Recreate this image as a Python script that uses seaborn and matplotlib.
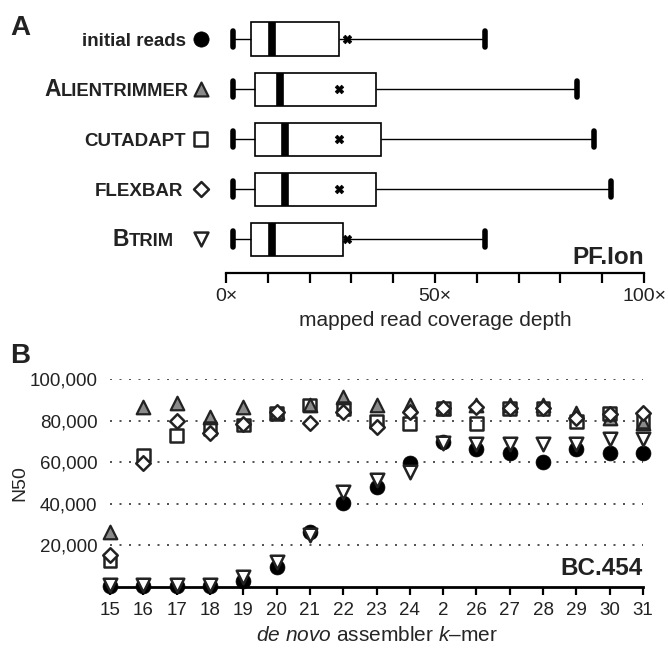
import numpy as np
import pandas as pd
import matplotlib
matplotlib.use("Agg")
import matplotlib.pyplot as plt
from matplotlib.transforms import blended_transform_factory
import seaborn as sns

sns.set_theme(style="white")
plt.rcParams['font.family'] = ['Liberation Sans', 'DejaVu Sans']
plt.rcParams['mathtext.fontset'] = 'custom'
plt.rcParams['mathtext.rm'] = 'Liberation Sans'
plt.rcParams['mathtext.it'] = 'Liberation Sans:italic'

# ---------------- Panel A data (mapped read coverage depth) ----------------
tools = ["initial reads", "AlienTrimmer", "Cutadapt", "Flexbar", "Btrim"]
cov_low = [1.7, 1.7, 1.7, 1.7, 1.7]
cov_q1 = [6, 7, 7, 7, 6]
cov_med = [11, 13, 14, 14, 11]
cov_q3 = [27, 36, 37, 36, 28]
cov_high = [62, 84, 88, 92, 62]
cov_mean = [29, 27, 27, 27, 29]
cov_ticks = [0, 10, 20, 30, 40, 50, 60, 70, 80, 90, 100]
cov_ticklabels = ["0\u00d7", "", "", "", "", "50\u00d7", "", "", "", "", "100\u00d7"]

# ---------------- Panel B data (N50 by k-mer) ----------------
kmers = [15, 16, 17, 18, 19, 20, 21, 22, 23, 24, 25, 26, 27, 28, 29, 30, 31]
kmer_labels = ["15", "16", "17", "18", "19", "20", "21", "22", "23", "24", "2",
               "26", "27", "28", "29", "30", "31"]
n50_initial = [300, 300, 300, 300, 3000, 9500, 26300, 40500, 48200, 59500, 69900,
               66200, 64300, 60300, 66200, 64300, 64300]
n50_alien = [26600, 86700, 88600, 81900, 86700, 84300, 87500, 91500, 87500, 87500,
             85900, 87500, 87500, 87500, 83500, 81100, 78700]
n50_cutadapt = [12700, 63500, 72800, 76300, 77900, 83500, 87500, 85900, 79500, 78700,
                85900, 78700, 85900, 85900, 79500, 83500, 79500]
n50_flexbar = [15400, 59500, 80000, 74200, 78200, 84300, 78700, 84300, 76800, 84300,
               85900, 86700, 85900, 85900, 81100, 83000, 83500]
n50_btrim = [1000, 1000, 1000, 1000, 5000, 12000, 25000, 45800, 51400, 55400, 69100,
             68800, 68800, 68800, 68800, 71000, 71000]
n50_yticks = [20000, 40000, 60000, 80000, 100000]
n50_yticklabels = ["20,000", "40,000", "60,000", "80,000", "100,000"]

# marker styles per tool
styles = {
    "initial reads": dict(marker="o", facecolor="black", edgecolor="black", s=115, lw=0.5, z=3),
    "AlienTrimmer": dict(marker="^", facecolor="#8a8a8a", edgecolor="#222222", s=95, lw=1.6, z=4),
    "Cutadapt": dict(marker="s", facecolor="none", edgecolor="#222222", s=85, lw=1.8, z=5),
    "Flexbar": dict(marker="D", facecolor="white", edgecolor="#222222", s=55, lw=1.8, z=6),
    "Btrim": dict(marker="v", facecolor="white", edgecolor="#222222", s=95, lw=1.8, z=7),
}

W, H = 668, 652
fig = plt.figure(figsize=(W / 100, H / 100), dpi=100)

def fx(px):
    return px / W

def fy(py):
    return 1 - py / H

# ================= Panel A =================
a_left, a_right, a_top, a_bottom = 226, 644, 10, 273
axA = fig.add_axes([fx(a_left), fy(a_bottom), fx(a_right - a_left), (a_bottom - a_top) / H])

rows = []
for t, lo, q1, md, q3, hi in zip(tools, cov_low, cov_q1, cov_med, cov_q3, cov_high):
    for v in (lo, q1, md, q3, hi):
        rows.append({"tool": t, "coverage": v})
dfA = pd.DataFrame(rows)

sns.boxplot(data=dfA, x="coverage", y="tool", order=tools, whis=(0, 100),
            width=0.66, color="white", linecolor="black", linewidth=1.2,
            showfliers=False, ax=axA,
            medianprops=dict(linewidth=5.5, color="black", solid_capstyle="butt"),
            capprops=dict(linewidth=4.0, color="black", solid_capstyle="round"),
            whiskerprops=dict(linewidth=1.0, color="black"))
sns.scatterplot(x=cov_mean, y=list(range(len(tools))), marker="X", color="black",
                s=38, edgecolor="black", linewidth=0.5, ax=axA, zorder=6, legend=False)

axA.set_xlim(0, 100)
axA.set_ylim(4.68, -0.58)
axA.set_xticks(cov_ticks)
axA.set_xticklabels(cov_ticklabels, fontsize=14)
axA.set_yticks([])
axA.set_ylabel("")
axA.set_xlabel("mapped read coverage depth", fontsize=15, labelpad=4)
for sp in ("top", "right", "left"):
    axA.spines[sp].set_visible(False)
axA.spines["bottom"].set_linewidth(1.6)
axA.spines["bottom"].set_color("black")
axA.tick_params(axis="x", direction="out", length=7, width=1.6, color="black",
                bottom=True, pad=4, labelcolor="#222222")

trA = blended_transform_factory(axA.transAxes, axA.transData)
span = a_right - a_left
renderer = fig.canvas.get_renderer()

def label(y, first, rest, xr_px, big=16.5, small=13.2):
    xr = (xr_px - a_left) / span
    fs = 13.5 if first == "" else small
    cap_px = fs * 100 / 72 * 0.716
    yb = y + (cap_px / 2) / 50.0
    t = axA.text(xr, yb, rest, transform=trA, ha="right", va="baseline",
                 fontsize=fs, fontweight="bold", color="#222222")
    if first:
        bb = t.get_window_extent(renderer)
        x_left_axes = axA.transAxes.inverted().transform((bb.x0, bb.y0))[0]
        axA.text(x_left_axes, yb, first, transform=trA, ha="right", va="baseline",
                 fontsize=big, fontweight="bold", color="#222222")

label(0, "", "initial reads", 186)
label(1, "A", "LIENTRIMMER", 188.5)
label(2, "", "CUTADAPT", 186)
label(3, "", "FLEXBAR", 183)
label(4, "B", "TRIM", 174)

x_mark = (200.5 - a_left) / span
for i, t in enumerate(tools):
    st = styles[t]
    axA.scatter([x_mark], [i], transform=trA, marker=st["marker"], s=st["s"] * 1.05,
                facecolors=st["facecolor"], edgecolors=st["edgecolor"],
                linewidths=st["lw"], clip_on=False, zorder=8)

axA.text(1.0, 4.5, "PF.Ion", transform=trA, ha="right", va="baseline",
         fontsize=17.5, fontweight="bold", color="#222222")

fig.text(fx(10), fy(35), "A", fontsize=20, fontweight="bold", color="#222222",
         ha="left", va="baseline")

# ================= Panel B =================
b_left, b_right, b_top, b_bottom = 110, 643, 379, 587
axB = fig.add_axes([fx(b_left), fy(b_bottom), fx(b_right - b_left), (b_bottom - b_top) / H])

series = {
    "initial reads": n50_initial,
    "AlienTrimmer": n50_alien,
    "Cutadapt": n50_cutadapt,
    "Flexbar": n50_flexbar,
    "Btrim": n50_btrim,
}
for name, vals in series.items():
    st = styles[name]
    dfB = pd.DataFrame({"k": kmers, "N50": vals})
    sns.scatterplot(data=dfB, x="k", y="N50", marker=st["marker"], s=st["s"],
                    color=st["facecolor"] if st["facecolor"] != "none" else "white",
                    edgecolor=st["edgecolor"], linewidth=st["lw"], ax=axB,
                    zorder=st["z"], legend=False, clip_on=False)
    if st["facecolor"] == "none":
        axB.collections[-1].set_facecolor("none")

axB.set_xlim(15, 31)
axB.set_ylim(0, 100000)
axB.set_xticks(kmers)
axB.set_xticklabels(kmer_labels, fontsize=13.5)
axB.set_yticks(n50_yticks)
axB.set_yticklabels(n50_yticklabels, fontsize=13.5)
axB.set_ylabel("N50", fontsize=14, labelpad=1)
axB.set_xlabel("$\\it{de\\ novo}$ assembler $\\it{k}$\u2013mer", fontsize=15, labelpad=5)
for sp in ("top", "right", "left"):
    axB.spines[sp].set_visible(False)
axB.spines["bottom"].set_linewidth(2.0)
axB.spines["bottom"].set_color("black")
axB.spines["bottom"].set_zorder(2)
axB.tick_params(axis="x", direction="out", length=6, width=1.6, color="black",
                bottom=True, pad=5, labelcolor="#222222")
axB.tick_params(axis="y", length=0, pad=9, labelcolor="#222222")
axB.yaxis.grid(True, linestyle=(0, (1.2, 4.5)), linewidth=1.2, color="#333333")
axB.xaxis.grid(False)
axB.set_axisbelow(True)

axB.text(31, 5800, "BC.454", ha="right", va="baseline", fontsize=17.5,
         fontweight="bold", color="#222222")

fig.text(fx(10), fy(363), "B", fontsize=20, fontweight="bold", color="#222222",
         ha="left", va="baseline")

fig.savefig("out.png", dpi=100)
